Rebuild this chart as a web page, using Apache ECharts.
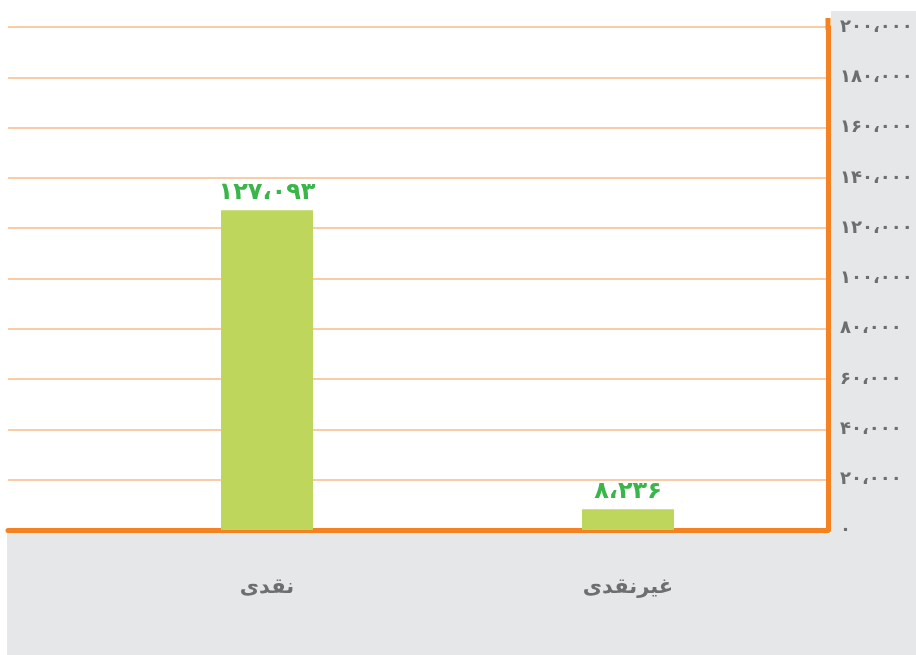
<!DOCTYPE html>
<html>
<head>
<meta charset="utf-8">
<script src="https://cdn.jsdelivr.net/npm/echarts@6/dist/echarts.min.js"></script>
<style>
html, body { margin: 0; padding: 0; background: #fff; }
#chart { width: 916px; height: 655px; }
</style>
</head>
<body>
<div id="chart"></div>
<script>
// دسته‌ها و مقادیر
var categories = ['نقدی', 'غیرنقدی'];
var values = [127093, 8236];
var yMax = 200000;
var yStep = 20000;

// اعداد فارسی
function faNum(v) {
    var s = String(v).replace(/\B(?=(\d{3})+(?!\d))/g, '،');
    return s.replace(/\d/g, function(d) { return '۰۱۲۳۴۵۶۷۸۹'[d]; });
}

var grey = '#e6e7e8';
var orange = '#f58220';
var font = 'DejaVu Sans';

var myChart = echarts.init(document.getElementById('chart'));
myChart.setOption({
    backgroundColor: '#fff',
    animation: false,
    graphic: [
        { type: 'rect', z: -10, shape: { x: 831, y: 11, width: 85, height: 644 }, style: { fill: grey } },
        { type: 'rect', z: -10, shape: { x: 7, y: 533, width: 909, height: 122 }, style: { fill: grey } },
        { type: 'rect', z: 10, shape: { x: 825.5, y: 18, width: 5, height: 12 }, style: { fill: orange } }
    ],
    grid: [
        { left: 8, right: 88, top: 27, bottom: 125 },
        { left: 86.5, right: 107.5, top: 27, bottom: 125 }
    ],
    xAxis: [
        {
            gridIndex: 0, type: 'category', data: categories,
            axisLine: { show: true, lineStyle: { color: orange, width: 5 } },
            axisTick: { show: false }, axisLabel: { show: false }
        },
        {
            gridIndex: 1, type: 'category', data: categories,
            axisLine: { show: false }, axisTick: { show: false },
            axisLabel: {
                margin: 47, color: '#6d6e71', fontSize: 21, fontWeight: 'bold', fontFamily: font
            }
        }
    ],
    yAxis: [
        {
            gridIndex: 0, type: 'value', position: 'right', min: 0, max: yMax, interval: yStep,
            axisLine: { show: true, lineStyle: { color: orange, width: 5 } },
            axisTick: { show: false },
            splitLine: { lineStyle: { color: '#f9bb88', width: 1.5 } },
            axisLabel: {
                margin: 12, align: 'left', color: '#6d6e71', fontSize: 18, fontWeight: 'bold', fontFamily: font,
                formatter: function(v) { return faNum(v); }
            }
        },
        {
            gridIndex: 1, type: 'value', min: 0, max: yMax, interval: yStep, show: false,
            splitLine: { show: false }
        }
    ],
    series: [{
        type: 'bar',
        xAxisIndex: 1, yAxisIndex: 1,
        data: values,
        barWidth: 92,
        itemStyle: { color: '#bed65c' },
        label: {
            show: true, position: 'top', distance: 6,
            color: '#39b54a', fontSize: 24, fontWeight: 'bold', fontFamily: font,
            formatter: function(p) { return faNum(p.value); }
        }
    }]
});
</script>
</body>
</html>
